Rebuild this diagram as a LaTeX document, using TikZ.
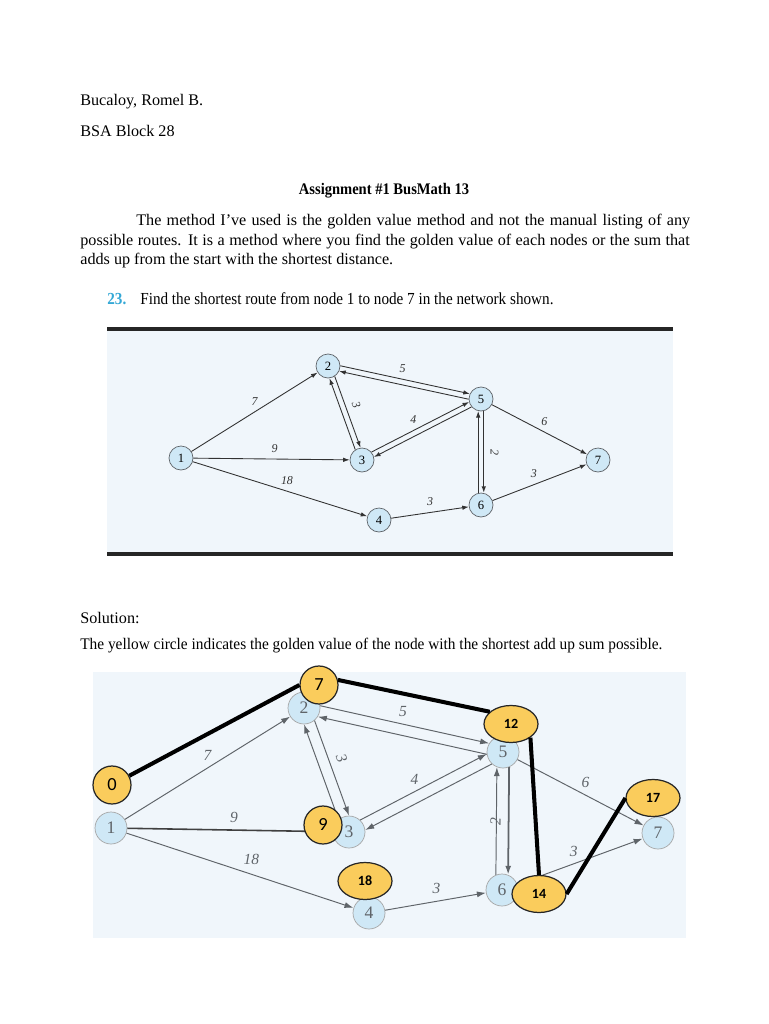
\documentclass[tikz,border=0pt]{standalone}
\usepackage{fontspec}
\setmainfont{Liberation Serif}
\newfontfamily\calibrifont{Carlito}
\newfontfamily\narrowserif[FakeStretch=0.9]{Liberation Serif}
\newfontfamily\slimserif[FakeStretch=0.95]{Liberation Serif}
\usetikzlibrary{arrows.meta,positioning,shapes.geometric,calc}
\definecolor{goldFill}{RGB}{250,204,92}
\definecolor{nodeBlue}{RGB}{207,232,246}
\definecolor{panelBlue}{RGB}{240,246,251}
\definecolor{edgeGray}{RGB}{50,50,50}
\definecolor{softGray}{RGB}{95,100,105}
\definecolor{numCyan}{RGB}{52,168,214}

\begin{document}
\begin{tikzpicture}[
  x=0.02cm, y=-0.02cm,
  bodytext/.style={anchor=base west, inner sep=0pt, font=\fontsize{9.2}{11}\selectfont},
  topnode/.style={circle, draw=softGray, fill=nodeBlue, minimum size=0.48cm, inner sep=0pt,
                  font=\fontsize{7.2}{8}\selectfont},
  botnode/.style={circle, draw=gray!70, fill=nodeBlue, minimum size=0.64cm, inner sep=0pt,
                  text=softGray, font=\fontsize{10}{11}\selectfont},
  golden/.style={ellipse, draw=black!85, line width=0.7pt, fill=goldFill, inner sep=0pt,
                 minimum width=1.08cm, minimum height=0.74cm, font=\calibrifont\bfseries\fontsize{8}{9}\selectfont},
  goldround/.style={golden, circle, minimum size=0.76cm, font=\calibrifont\fontsize{10.5}{11}\selectfont},
  arrow/.style={-{Latex[length=1.3mm,width=0.9mm]}, edgeGray, line width=0.5pt},
  barrow/.style={-{Latex[length=1.8mm,width=1.2mm]}, softGray, line width=0.55pt},
  toplbl/.style={font=\itshape\fontsize{6.8}{7}\selectfont, inner sep=1pt, above=2.5pt},
  botlbl/.style={font=\itshape\fontsize{8.8}{9}\selectfont, text=softGray, inner sep=1pt, above=3pt},
  route/.style={line width=2.3pt, black}
]
\useasboundingbox (0,0) rectangle (768,1024);
\fill[white] (0,0) rectangle (768,1024);

% header and text
\node[bodytext] (name) at (80,106) {Bucaloy, Romel B.};
\node[bodytext] (block) at (80,136) {BSA Block 28};
\node[bodytext, anchor=base, font=\narrowserif\bfseries\fontsize{9.2}{11}\selectfont] (title) at (384,194) {Assignment \#1 BusMath 13};
\node[bodytext] (para1) at (136,225) {\hbox to 315.2pt{The method I've used is the golden value method and not the manual listing of any}};
\node[bodytext] (para2) at (80,245) {\hbox to 346.9pt{possible routes. It is a method where you find the golden value of each nodes or the sum that}};
\node[bodytext] (para3) at (80,264) {adds up from the start with the shortest distance.};
\node[bodytext, text=numCyan, font=\narrowserif\bfseries\fontsize{9.6}{11}\selectfont] (qnum) at (107,304) {23.};
\node[bodytext, font=\narrowserif\fontsize{9.6}{11}\selectfont] (question) at (140,304) {Find the shortest route from node 1 to node 7 in the network shown.};
\node[bodytext] (solution) at (80,623) {Solution:};
\node[bodytext, font=\slimserif\fontsize{9.2}{11}\selectfont] (legend) at (80,649) {The yellow circle indicates the golden value of the node with the shortest add up sum possible.};

% original network
\fill[panelBlue] (107,330) rectangle (673,553);
\fill[black!85] (107,327) rectangle (673,331);
\fill[black!85] (107,552) rectangle (673,556);
\node[topnode] (t1) at (181,458) {1};
\node[topnode] (t2) at (328,366) {2};
\node[topnode] (t3) at (362,460) {3};
\node[topnode] (t4) at (379,520) {4};
\node[topnode] (t5) at (481,399) {5};
\node[topnode] (t6) at (481,505) {6};
\node[topnode] (t7) at (598,460) {7};
\draw[arrow] (t1) -- node[toplbl] (tw12) {7} (t2);
\draw[arrow] (t1) -- node[toplbl, pos=0.52] (tw13) {9} (t3);
\draw[arrow] (t1) -- node[toplbl, pos=0.54] (tw14) {18} (t4);
\draw[arrow] (t2.-57) -- node[toplbl, sloped, pos=0.45] (tw23) {3} (t3.97);
\draw[arrow] (t3.123) -- (t2.-83);
\draw[arrow] (t2.1) -- node[toplbl, pos=0.48] (tw25) {5} (t5.155);
\draw[arrow] (t5.181) -- (t2.-25);
\draw[arrow] (t3.40) -- node[toplbl, pos=0.43] (tw35) {4} (t5.194);
\draw[arrow] (t5.220) -- (t3.14);
\draw[arrow, line width=0.8pt] (t5.-77) -- node[toplbl, sloped] (tw56) {2} (t6.77);
\draw[arrow] (t6.103) -- (t5.-103);
\draw[arrow] (t4) -- node[toplbl] (tw46) {3} (t6);
\draw[arrow] (t5) -- node[toplbl, pos=0.55] (tw57) {6} (t7);
\draw[arrow] (t6) -- node[toplbl, pos=0.44] (tw67) {3} (t7);

% solved network
\fill[panelBlue] (93,672) rectangle (686,938);
\node[botnode] (b1) at (111,828) {1};
\node[botnode] (b2) at (304,708) {2};
\node[botnode] (b3) at (349,832) {3};
\node[botnode] (b4) at (369,913) {4};
\node[botnode] (b5) at (503,752) {5};
\node[botnode] (b6) at (502,890) {6};
\node[botnode] (b7) at (658,833) {7};
\draw[barrow] (b1) -- node[botlbl] (bw12) {7} (b2);
\draw[barrow, black!75, line width=0.9pt] (b1) -- node[botlbl, pos=0.52] (bw13) {9} (b3);
\draw[barrow] (b1) -- node[botlbl, pos=0.55, above=4pt] (bw14) {18} (b4);
\draw[barrow] (b2.-50) -- node[botlbl, sloped, pos=0.44] (bw23) {3} (b3.90);
\draw[barrow] (b3.130) -- (b2.-90);
\draw[barrow] (b2.8) -- node[botlbl, pos=0.49] (bw25) {5} (b5.148);
\draw[barrow] (b5.188) -- (b2.-32);
\draw[barrow] (b3.47) -- node[botlbl, pos=0.43] (bw35) {4} (b5.187);
\draw[barrow] (b5.227) -- (b3.7);
\draw[barrow, line width=1pt] (b5.-68) -- node[botlbl, sloped, pos=0.51] (bw56) {2} (b6.68);
\draw[barrow] (b6.112) -- (b5.-112);
\draw[barrow] (b4) -- node[botlbl, pos=0.51] (bw46) {3} (b6);
\draw[barrow] (b5) -- node[botlbl, pos=0.54] (bw57) {6} (b7);
\draw[barrow] (b6) -- node[botlbl, pos=0.45] (bw67) {3} (b7);

% golden values
\node[goldround] (g1) at (112,785) {0};
\node[goldround] (g2) at (319,685) {7};
\node[goldround] (g3) at (323,825) {9};
\node[golden] (g4) at (365,881) {18};
\node[golden] (g5) at (511,724) {12};
\node[golden] (g6) at (539,894) {14};
\node[golden] (g7) at (653,798) {17};
\draw[route] (g1) -- (g2.west);
\draw[route] (g2.15) -- (g5.150);
\draw[route] (g5.-35) -- (g6.north);
\draw[route] (g6.east) -- (g7.west);
\end{tikzpicture}
\end{document}
